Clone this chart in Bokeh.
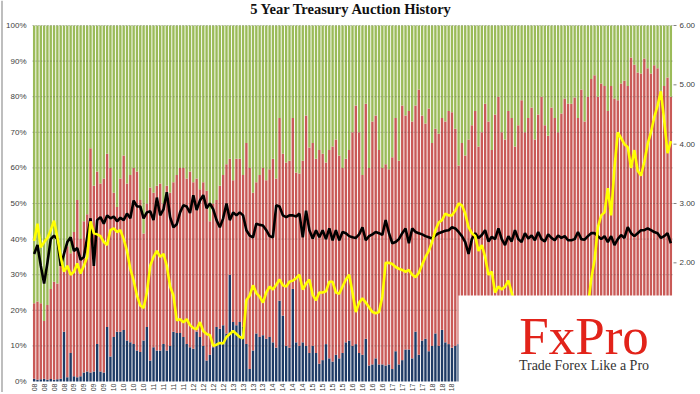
import math
from bokeh.plotting import figure
from bokeh.models import Range1d, BoxAnnotation, ColumnDataSource, Span
from bokeh.core.properties import value
from bokeh.embed import file_html
from bokeh.resources import INLINE

# Monthly 5-year note auctions, Jan 2008 .. Jan 2024
direct = [
    0.8, 0.5, 0.6, 0.8, 0.5, 0.7, 0.5, 0.6, 0.8, 14, 1.2, 8,
    1.5, 1.2, 1.5, 2.5, 2.8, 2.5, 2.8, 10.5, 2.8, 2.5, 15.3, 7,
    12.5, 14, 14, 14.5, 11.5, 11, 10.5, 8.7, 8.3, 11.5, 15.3, 5.9,
    9.6, 8.7, 8.7, 10.5, 8.7, 10, 14, 13.6, 13.6, 12.5, 10.5, 9.6,
    9.2, 14, 12.5, 10, 5.9, 7.5, 9.6, 15.3, 14.8, 15.8, 13.5, 30,
    16.7, 15.8, 16.7, 15.3, 10.5, 3.5, 8.7, 13.5, 12.5, 13, 12, 12.5,
    11, 9.5, 22.7, 18.5, 10, 9.5, 26, 11, 10, 11, 10, 8,
    10, 8, 5, 6, 10.5, 6.5, 5.6, 7.5, 6.5, 8, 11, 11.5,
    10, 10.5, 8, 7.5, 12, 4.5, 4.8, 6.5, 4.8, 4.8, 4.5, 4.8,
    3.5, 8.5, 4.8, 6, 9, 9, 6.5, 14, 7.5, 11.5, 12, 8.5,
    10, 13.5, 10, 14.5, 11, 10.5, 9.5, 10, 10.5, 11, 9, 12,
    10, 13, 9, 11, 14, 10, 12, 9, 15, 11, 13, 10,
    12, 14, 9, 11, 16, 12, 10, 13, 15, 11, 14, 12,
    17, 13, 15, 12, 16, 14, 18, 13, 15, 17, 12, 14,
    19, 16, 13, 18, 15, 17, 14, 20, 16, 18, 15, 19,
    17, 21, 16, 18, 20, 17, 19, 16, 18, 15, 19, 17,
    20]

indirect = [
    21.2, 22.0, 21.4, 16.2, 21.0, 25.3, 27.5, 26.9, 32.2, 17.0, 36.8, 28.0,
    40.5, 49.8, 38.5, 42.5, 44.2, 63.0, 52.2, 48.5, 52.8, 54.5, 48.7, 53.0,
    40.5, 35.0, 43.0, 49.0, 44.1, 47.0, 49.5, 50.3, 42.7, 30.1, 34.7, 48.6,
    43.4, 46.3, 46.9, 39.5, 46.3, 43.0, 42.0, 44.4, 46.4, 47.5, 46.5, 49.4,
    46.8, 43.0, 41.5, 46.0, 47.7, 37.5, 40.4, 35.7, 40.2, 42.2, 47.5, 32.6,
    39.8, 46.8, 45.9, 42.7, 56.5, 56.5, 44.3, 42.5, 45.5, 47.0, 44.5, 47.1,
    51.6, 47.5, 51.3, 45.5, 51.5, 52.5, 48.0, 47.7, 48.4, 51.0, 64.7, 57.7,
    57.0, 54.6, 60.0, 58.0, 51.0, 58.5, 60.4, 60.5, 57.0, 52.0, 51.6, 53.5,
    60.0, 67.0, 62.0, 50.5, 66.0, 55.5, 68.2, 68.2, 60.2, 55.2, 56.5, 54.8,
    59.5, 65.5, 57.2, 71.5, 65.7, 67.0, 66.5, 63.5, 74.5, 63.2, 60.5, 68.2,
    57.0, 57.5, 59.6, 59.5, 62.0, 65.5, 66.1, 61.0, 50.2, 56.0, 54.5, 56.0,
    62, 63, 57, 59, 64, 63, 53, 66, 65, 59, 55, 66,
    62, 52, 63, 68, 54, 62, 67, 55, 60, 69, 58, 57,
    60, 61, 55, 63.3, 63.5, 64, 60, 66.8, 59, 65, 61, 66,
    66, 70, 67, 65.7, 68, 59, 69, 59.5, 63, 65.7, 69.5, 64,
    74, 68, 70.8, 68.5, 70.7, 71, 67.5, 72.8, 70, 66.7, 64, 68.4,
    60]

bid_to_cover = [
    2.15, 2.30, 1.95, 1.65, 2.00, 2.40, 2.46, 2.40, 1.95, 2.15, 2.35, 2.43,
    2.20, 2.25, 2.05, 2.10, 2.43, 2.75, 1.95, 2.72, 2.77, 2.66, 2.80, 2.75,
    2.78, 2.70, 2.76, 2.72, 2.83, 2.75, 3.05, 2.95, 2.95, 2.75, 2.85, 2.87,
    2.72, 3.10, 2.80, 2.90, 3.19, 2.77, 2.60, 2.65, 2.85, 2.97, 2.95, 2.84,
    3.14, 2.89, 3.05, 3.14, 2.92, 3.00, 2.90, 2.72, 2.60, 2.75, 3.00, 2.72,
    2.85, 2.80, 2.85, 2.80, 2.55, 2.46, 2.43, 2.66, 2.64, 2.63, 2.55, 2.45,
    2.43, 2.97, 2.95, 2.80, 2.77, 2.80, 2.80, 2.78, 2.83, 2.43, 2.88, 2.55,
    2.41, 2.55, 2.43, 2.55, 2.40, 2.58, 2.38, 2.55, 2.38, 2.52, 2.50, 2.45,
    2.43, 2.42, 2.48, 2.60, 2.38, 2.45, 2.48, 2.52, 2.50, 2.47, 2.72, 2.50,
    2.33, 2.35, 2.40, 2.50, 2.58, 2.33, 2.58, 2.52, 2.50, 2.48, 2.45, 2.43,
    2.41, 2.46, 2.50, 2.52, 2.54, 2.55, 2.60, 2.58, 2.52, 2.45, 2.35, 2.15,
    2.40, 2.50, 2.42, 2.47, 2.55, 2.36, 2.44, 2.40, 2.58, 2.40, 2.30, 2.45,
    2.36, 2.55, 2.40, 2.35, 2.50, 2.41, 2.46, 2.38, 2.52, 2.40, 2.36, 2.48,
    2.42, 2.38, 2.46, 2.42, 2.45, 2.38, 2.38, 2.40, 2.52, 2.40, 2.39, 2.45,
    2.50, 2.50, 2.45, 2.40, 2.45, 2.35, 2.45, 2.30, 2.40, 2.47, 2.42, 2.60,
    2.50, 2.45, 2.50, 2.55, 2.55, 2.58, 2.55, 2.52, 2.50, 2.42, 2.45, 2.50,
    2.33]

high_yield = [
    2.37, 2.66, 2.26, 2.35, 2.42, 2.55, 2.71, 2.43, 2.10, 1.85, 1.95, 1.80,
    1.85, 1.99, 1.82, 1.95, 2.10, 2.70, 2.50, 2.48, 2.45, 2.35, 2.30, 2.55,
    2.58, 2.52, 2.55, 2.40, 2.20, 1.90, 1.70, 1.45, 1.28, 1.24, 1.50, 1.95,
    2.10, 2.20, 2.10, 2.15, 1.95, 1.60, 1.45, 1.03, 1.05, 1.00, 1.05, 0.95,
    0.90, 0.88, 1.00, 0.85, 0.80, 0.78, 0.60, 0.62, 0.65, 0.64, 0.75, 0.80,
    0.85, 0.80, 0.75, 0.73, 1.37, 1.45, 1.62, 1.49, 1.43, 1.33, 1.50, 1.60,
    1.55, 1.63, 1.72, 1.62, 1.60, 1.68, 1.70, 1.74, 1.80, 1.55, 1.65, 1.72,
    1.46, 1.37, 1.50, 1.50, 1.52, 1.68, 1.68, 1.50, 1.48, 1.60, 1.72, 1.80,
    1.50, 1.17, 1.33, 1.40, 1.33, 1.25, 1.17, 1.15, 1.17, 1.43, 2.00, 2.00,
    1.98, 1.93, 1.90, 1.88, 1.85, 1.88, 1.80, 1.76, 1.83, 1.97, 2.10, 2.20,
    2.35, 2.55, 2.68, 2.72, 2.83, 2.80, 2.80, 2.88, 3.00, 2.97, 2.83, 2.60,
    2.50, 2.45, 2.20, 2.30, 2.10, 1.80, 1.85, 1.50, 1.60, 1.55, 1.60, 1.70,
    1.50, 1.30, 0.60, 0.40, 0.33, 0.33, 0.29, 0.27, 0.28, 0.35, 0.38, 0.37,
    0.42, 0.62, 0.86, 0.85, 0.79, 0.87, 0.75, 0.77, 0.99, 1.20, 1.25, 1.26,
    1.73, 2.05, 2.60, 2.80, 2.85, 3.26, 2.80, 3.60, 4.20, 4.10, 4.00, 3.95,
    3.60, 3.90, 3.55, 3.47, 3.70, 4.00, 4.20, 4.45, 4.65, 4.89, 4.40, 3.85,
    4.05]

# quarterly category labels visible left of the logo panel (Jan 2008 .. Jul 2018)
tick_labels = (["08"] * 4 + ["09"] * 4 + ["10"] * 4 + ["11"] * 4 + ["12"] * 4 +
               ["13"] * 4 + ["14"] * 4 + ["15"] * 4 + ["16"] * 4 + ["17"] * 4 +
               ["18"] * 3)
left_ticks = [0, 10, 20, 30, 40, 50, 60, 70, 80, 90, 100]
left_labels = ["0%", "10%", "20%", "30%", "40%", "50%", "60%", "70%", "80%", "90%", "100%"]
right_ticks = [2, 3, 4, 5, 6]
right_labels = ["2.00", "3.00", "4.00", "5.00", "6.00"]
RATE_MAX = 6.0

# ---- canvas geometry (pixels inside the figure) ----
W, H = 698, 392
PL, PR, PT, PB = 32, 672, 25, 381   # plotting area: left, right, top, bottom

n = len(direct)
ux = (PR - PL) / n           # px per bar slot
uy = (PB - PT) / 100.0       # px per percent


def px_x(px):
    return -0.5 + (px - PL) / ux


def px_y(py):
    return (PB - py) / uy


x0, x1 = px_x(0), px_x(W)
y0, y1 = px_y(H), px_y(0)

xs = list(range(n))
dealers = [100 - d - i for d, i in zip(direct, indirect)]
src = ColumnDataSource(dict(x=xs, direct=direct, indirect=indirect, dealers=dealers,
                            btc=bid_to_cover, yld=high_yield))

BLUE, RED, GREEN = "#1F3B66", "#C95A57", "#9BBB59"
TICK_COLOR = "#404040"
SANS = value("Liberation Sans")
SERIF = value("Liberation Serif")

p = figure(width=W, height=H, output_backend="svg", toolbar_location=None,
           x_range=Range1d(x0, x1), y_range=Range1d(y0, y1),
           x_axis_location=None, y_axis_location=None, title=None,
           min_border_left=0, min_border_right=0, min_border_top=0, min_border_bottom=0)
p.background_fill_color = "white"
p.border_fill_color = "white"
p.outline_line_color = None
p.grid.visible = False
p.extra_y_ranges = {"rate": Range1d(y0 * RATE_MAX / 100, y1 * RATE_MAX / 100)}

# thin image border on the left
p.add_layout(Span(location=px_x(1.5), dimension="height", line_color="#A8A8A8",
                  line_width=1.5))

# stacked 100% bars
p.vbar_stack(["direct", "indirect", "dealers"], x="x", width=0.72, source=src,
             color=[BLUE, RED, GREEN], line_width=0)

# horizontal gridlines across the plotting area
gl = left_ticks[1:]
p.segment(x0=[-0.5] * len(gl), x1=[n - 0.5] * len(gl), y0=gl, y1=gl,
          line_color="#303030", line_alpha=0.4, line_dash="1 2", line_width=1)

# lines on the right-hand scale
p.line("x", "btc", source=src, y_range_name="rate", color="black", line_width=2.6)
p.line("x", "yld", source=src, y_range_name="rate", color="#FFFF00", line_width=2.6)

# title
p.text(x=[px_x(351)], y=[px_y(8)], text=["5 Year Treasury Auction History"],
       text_font=SERIF, text_font_style="bold", text_font_size="14.5px",
       text_color="#111111", text_align="center", text_baseline="middle")

# left scale labels
p.text(x=[px_x(PL - 6)] * len(left_ticks), y=left_ticks, text=left_labels,
       text_font=SANS, text_font_size="8px", text_color=TICK_COLOR,
       text_align="right", text_baseline="middle")

# right scale: tick marks and labels
p.segment(x0=[px_x(PR + 1)] * len(right_ticks), x1=[px_x(PR + 4)] * len(right_ticks),
          y0=right_ticks, y1=right_ticks, y_range_name="rate",
          line_color="#808080", line_width=1)
p.text(x=[px_x(PR + 7)] * len(right_ticks), y=right_ticks, text=right_labels,
       y_range_name="rate", text_font=SANS, text_font_size="8px", text_color=TICK_COLOR,
       text_align="left", text_baseline="middle")

# category labels (rotated)
xticks = list(range(0, 3 * len(tick_labels), 3))
p.text(x=xticks, y=[px_y(PB + 2)] * len(xticks), text=tick_labels, angle=math.pi / 2,
       text_font=SANS, text_font_size="7px", text_color=TICK_COLOR,
       text_align="right", text_baseline="middle")

# logo panel
p.add_layout(BoxAnnotation(left=px_x(458), right=x1 + 5, bottom=y0 - 5, top=px_y(295),
                           fill_color="white", fill_alpha=1.0, line_color=None,
                           level="annotation"))
p.text(x=[px_x(583.5)], y=[px_y(335.4)], text=["FxPro"], text_font=SERIF,
       text_font_size="53px", text_color="#E2231A", text_align="center",
       text_baseline="middle", level="overlay")
p.text(x=[px_x(583.5)], y=[px_y(365.4)], text=["Trade Forex Like a Pro"], text_font=SERIF,
       text_font_size="14px", text_color="#333333", text_align="center",
       text_baseline="middle", level="overlay")

open("out.html", "w").write(file_html(p, INLINE))
